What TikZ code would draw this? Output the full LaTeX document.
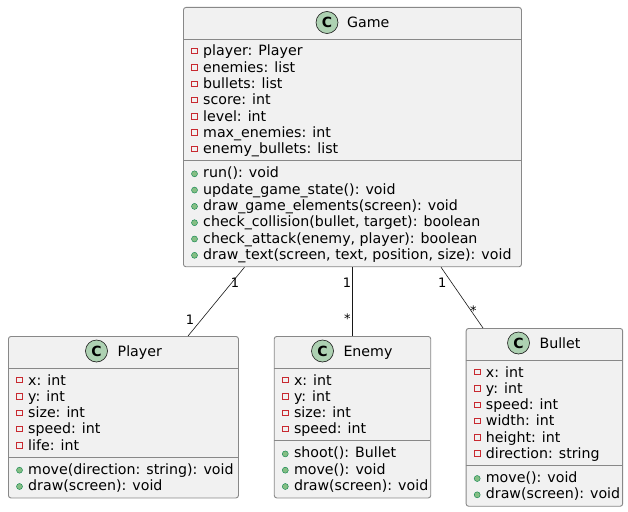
\documentclass[tikz,border=0pt]{standalone}
\usepackage{fontspec}
\setmainfont{DejaVu Sans}
\definecolor{boxfill}{HTML}{F1F1F1}
\definecolor{boxline}{HTML}{888888}
\definecolor{darkline}{HTML}{181818}
\definecolor{cfill}{HTML}{ADD1B2}
\definecolor{privred}{HTML}{C82930}
\definecolor{pubfill}{HTML}{84BE84}
\definecolor{publine}{HTML}{038048}
\tikzset{
  umlbox/.style={draw=boxline, line width=0.9pt, fill=boxfill, inner sep=0pt, anchor=north west, rounded corners=2.5pt},
  sepline/.style={draw=boxline, line width=0.9pt},
  rowtxt/.style={anchor=base west, inner sep=0pt, font=\fontsize{14.2}{16}\selectfont},
  titletxt/.style={anchor=base west, inner sep=0pt, font=\fontsize{14.2}{16}\selectfont},
  sqmark/.style={draw=privred, line width=0.6pt, minimum size=5.5pt, inner sep=0pt},
  dotmark/.style={circle, draw=publine, line width=0.4pt, fill=pubfill, minimum size=6pt, inner sep=0pt},
  cmark/.style={circle, draw=darkline, line width=0.6pt, fill=cfill, minimum size=22pt, inner sep=0pt, font=\fontsize{14}{16}\selectfont\bfseries},
  assoc/.style={draw=darkline, line width=0.6pt},
  mult/.style={inner sep=0pt, font=\fontsize{13}{15}\selectfont}
}
\newcommand\attrrows[3]{%
  \foreach \t [count=\i from 0] in {#3} {
    \pgfmathsetmacro\bl{#2+16.3*\i}
    \node[sqmark] at (#1+11.5,\bl-5) {};
    \node[rowtxt] at (#1+20,\bl) {\t};
  }}
\newcommand\methrows[3]{%
  \foreach \t [count=\i from 0] in {#3} {
    \pgfmathsetmacro\bl{#2+16.3*\i}
    \node[dotmark] at (#1+11.5,\bl-4) {};
    \node[rowtxt] at (#1+20,\bl) {\t};
  }}
\begin{document}
\begin{tikzpicture}[x=1pt,y=-1pt]
\useasboundingbox (0,0) rectangle (628,511);
\fill[white] (0,0) rectangle (628,511);

% Game
\node[umlbox, minimum width=338pt, minimum height=259.3pt] (game) at (183,7) {};
\node[cmark] (gamec) at (327,22.5) {C};
\node[titletxt] (gamet) at (347,28) {Game};
\draw[sepline] (183,39) -- (521,39);
\draw[sepline] (183,160.8) -- (521,160.8);
\attrrows{183}{56}{player: Player, enemies: list, bullets: list, score: int, level: int, max\_enemies: int, enemy\_bullets: list}
\methrows{183}{177.8}{run(): void, update\_game\_state(): void, draw\_game\_elements(screen): void, {check\_collision(bullet, target): boolean}, {check\_attack(enemy, player): boolean}, {draw\_text(screen, text, position, size): void}}

% Player
\node[umlbox, minimum width=230pt, minimum height=161.5pt] (player) at (8,336) {};
\node[cmark] (playerc) at (96.5,351) {C};
\node[titletxt] (playert) at (117.5,356) {Player};
\draw[sepline] (8,368) -- (238,368);
\draw[sepline] (8,457.2) -- (238,457.2);
\attrrows{8}{385}{x: int, y: int, size: int, speed: int, life: int}
\methrows{8}{474.2}{move(direction: string): void, draw(screen): void}

% Enemy
\node[umlbox, minimum width=156.5pt, minimum height=161.5pt] (enemy) at (273.8,336) {};
\node[cmark] (enemyc) at (322.5,351) {C};
\node[titletxt] (enemyt) at (343.3,356) {Enemy};
\draw[sepline] (273.8,368) -- (430.3,368);
\draw[sepline] (273.8,440.9) -- (430.3,440.9);
\attrrows{273.8}{385}{x: int, y: int, size: int, speed: int}
\methrows{273.8}{457.9}{shoot(): Bullet, move(): void, draw(screen): void}

% Bullet
\node[umlbox, minimum width=156.5pt, minimum height=177.8pt] (bullet) at (465.7,328) {};
\node[cmark] (bulletc) at (518.5,343) {C};
\node[titletxt] (bullett) at (539.3,348) {Bullet};
\draw[sepline] (465.7,360) -- (622.2,360);
\draw[sepline] (465.7,465.5) -- (622.2,465.5);
\attrrows{465.7}{377}{x: int, y: int, speed: int, width: int, height: int, direction: string}
\methrows{465.7}{482.5}{move(): void, draw(screen): void}

% Associations
\draw[assoc] ([xshift=61.5pt]game.south west) -- ([xshift=180pt]player.north west);
\draw[assoc] (enemy.north |- game.south) -- (enemy.north);
\draw[assoc] ([xshift=258pt]game.south west) -- ([xshift=17.3pt]bullet.north west);

\node[mult] (m1) at (235,283) {1};
\node[mult] (m2) at (190,320) {1};
\node[mult] (m3) at (347,283) {1};
\node[mult] (m4) at (347.3,319) {*};
\node[mult] (m5) at (442.3,283) {1};
\node[mult] (m6) at (473.3,311) {*};
\end{tikzpicture}
\end{document}
